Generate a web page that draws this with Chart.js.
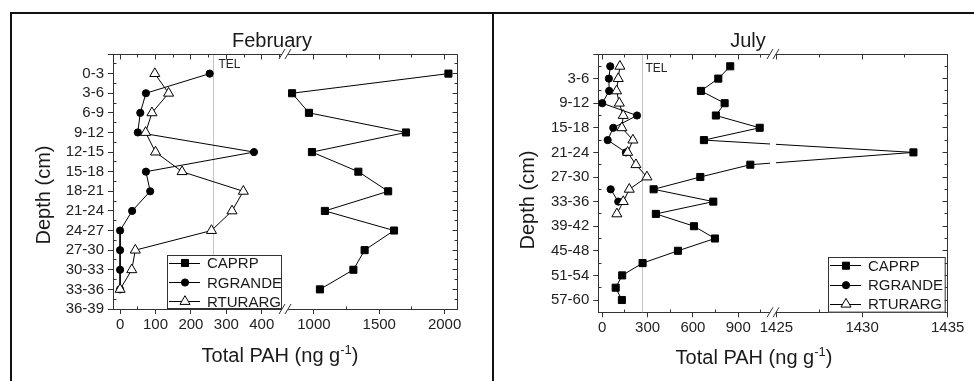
<!DOCTYPE html>
<html lang="en">
<head>
<meta charset="UTF-8">
<title>Total PAH by depth</title>
<script src="https://cdn.jsdelivr.net/npm/chart.js@4"></script>
<style>
  body { margin: 0; background: #fff; }
  .rule { position: absolute; background: #111; }
  canvas { position: absolute; top: 14px; }
</style>
</head>
<body>
<div class="rule" style="left:10px;top:12px;width:2px;height:369px"></div>
<div class="rule" style="left:10px;top:12px;width:964px;height:2px"></div>
<div class="rule" style="left:492px;top:12px;width:2px;height:369px"></div>
<canvas id="chartFeb" width="480" height="367" style="left:12px"></canvas>
<canvas id="chartJul" width="480" height="367" style="left:494px"></canvas>

<script>
const FONT = '"Liberation Sans", Arial, Helvetica, sans-serif';

// February core, 3 cm slices
const febDepths = ['0-3', '3-6', '6-9', '9-12', '12-15', '15-18', '18-21', '21-24', '24-27', '27-30', '30-33', '33-36', '36-39'];
const febCAPRP = [2029, 833, 962, 1704, 985, 1340, 1568, 1084, 1613, 1388, 1302, 1046];
const febRGRANDE = [253, 73, 57, 50, 378, 73, 85, 34, 0, 0, 0, 0];
const febRTURARG = [98, 137, 90, 72, 100, 175, 348, 316, 258, 43, 33, 0];
const febTicks = [0, 100, 200, 300, 400, 1000, 1500, 2000];
const febMinor = [50, 150, 250, 350, 450, 1250, 1750];

// July core
const julDepths = ['0-3', '3-6', '6-9', '9-12', '12-15', '15-18', '18-21', '21-24', '24-27', '27-30', '30-33', '33-36', '36-39', '39-42', '42-45', '45-48', '48-51', '51-54', '54-57', '57-60'];
const julCAPRP = [847, 768, 653, 810, 752, 1042, 673, 1433, 980, 649, 340, 735, 355, 607, 746, 501, 267, 132, 89, 130];
const julRGRANDE = [53, 44, 46, 0, 230, 73, 36, 157, null, null, 56, 106];
const julRTURARG = [117, 106, 95, 113, 139, 130, 203, 168, 223, 296, 179, 139, 97];
const julTicks = [0, 300, 600, 900, 1425, 1430, 1435];
const julMinor = [150, 450, 750, 1050, 1427.5, 1432.5];

const TEL = 264;

// broken x axis: each piece takes half the width, axis units run 0..1 | 1..2
function brokenAxis(left, right) {
  return v => v <= left[1]
    ? (v - left[0]) / (left[1] - left[0])
    : 1 + (v - right[0]) / (right[1] - right[0]);
}

const markers = {
  CAPRP: { pointStyle: 'rect', pointRadius: 5, pointBackgroundColor: '#000', order: 2 },
  RGRANDE: { pointStyle: 'circle', pointRadius: 3.6, pointBackgroundColor: '#000', order: 1 },
  RTURARG: { pointStyle: 'triangle', pointRadius: 5.8, pointBackgroundColor: '#fff', order: 0 }
};

function makeDatasets(toX, caprp, rgrande, rturarg) {
  return [['CAPRP', caprp], ['RGRANDE', rgrande], ['RTURARG', rturarg]].map(([name, vals]) => ({
    label: name,
    data: vals.map((v, i) => ({ x: v == null ? null : toX(v), y: i })),
    borderColor: '#000',
    borderWidth: 1,
    pointBorderColor: '#000',
    pointBorderWidth: 1,
    spanGaps: false,
    ...markers[name]
  }));
}

const al = p => Math.round(p - 0.5) + 0.5;

// TEL line, mirrored axes, minor ticks, axis break, legend and titles
function panelDecor(cfg) {
  return {
    id: 'panelDecor',
    beforeDatasetsDraw(chart) {
      const { ctx, chartArea: a, scales: { x } } = chart;
      const tx = al(x.getPixelForValue(cfg.toX(TEL)));
      ctx.save();
      ctx.strokeStyle = '#c4c4c4';
      ctx.lineWidth = 1;
      ctx.beginPath();
      ctx.moveTo(tx, a.top);
      ctx.lineTo(tx, a.bottom);
      ctx.stroke();
      ctx.fillStyle = '#222';
      ctx.font = '12px ' + FONT;
      ctx.textBaseline = 'middle';
      ctx.fillText('TEL', tx + cfg.telLabel[0], a.top + cfg.telLabel[1]);
      ctx.restore();
    },
    afterDatasetsDraw(chart) {
      const { ctx, chartArea: a, scales: { x, y } } = chart;
      const L = al(a.left), R = al(a.right), T = al(a.top), B = al(a.bottom);
      ctx.save();
      ctx.strokeStyle = '#333';
      ctx.lineWidth = 1;
      ctx.beginPath();
      ctx.moveTo(L, T); ctx.lineTo(R, T); ctx.lineTo(R, B);
      cfg.xTicks.forEach(v => {
        const px = al(x.getPixelForValue(cfg.toX(v)));
        ctx.moveTo(px, T); ctx.lineTo(px, T + 5);
      });
      cfg.xMinor.forEach(v => {
        const px = al(x.getPixelForValue(cfg.toX(v)));
        ctx.moveTo(px, T); ctx.lineTo(px, T + 3);
        ctx.moveTo(px, B); ctx.lineTo(px, B - 3);
      });
      cfg.yMajor.forEach(v => {
        const py = al(y.getPixelForValue(v));
        ctx.moveTo(R, py); ctx.lineTo(R - 5, py);
      });
      cfg.yMinor.forEach(v => {
        const py = al(y.getPixelForValue(v));
        ctx.moveTo(R, py); ctx.lineTo(R - 3, py);
        ctx.moveTo(L, py); ctx.lineTo(L + 3, py);
      });
      ctx.stroke();

      // axis break
      const bx = Math.round(x.getPixelForValue(1));
      ctx.fillStyle = '#fff';
      ctx.fillRect(bx - 3, a.top - 2, 6, a.bottom - a.top + 4);
      ctx.beginPath();
      [a.top, a.bottom].forEach(yy => {
        [-3, 3].forEach(dx => {
          ctx.moveTo(bx + dx - 3, yy + 5);
          ctx.lineTo(bx + dx + 3, yy - 5);
        });
      });
      ctx.stroke();

      // legend
      const lg = cfg.legend;
      ctx.fillStyle = '#fff';
      ctx.fillRect(lg.x, lg.y, lg.w, lg.h);
      ctx.strokeStyle = '#333';
      ctx.strokeRect(al(lg.x), al(lg.y), lg.w, lg.h);
      ctx.font = '15px ' + FONT;
      ctx.textBaseline = 'middle';
      chart.data.datasets.forEach((ds, i) => {
        const ry = lg.y + [8, 27.5, 46.5][i];
        ctx.strokeStyle = '#000';
        ctx.beginPath();
        ctx.moveTo(lg.x + 2, al(ry));
        ctx.lineTo(lg.x + 33, al(ry));
        ctx.stroke();
        ctx.fillStyle = ds.pointBackgroundColor;
        Chart.helpers.drawPoint(ctx, { pointStyle: ds.pointStyle, radius: ds.pointRadius, borderWidth: 1, rotation: 0 }, lg.x + 18, ry);
        ctx.fillStyle = '#1a1a1a';
        ctx.fillText(ds.label, lg.x + 40, ry + 1);
      });
      ctx.restore();
    },
    afterDraw(chart) {
      const { ctx } = chart;
      ctx.save();
      ctx.fillStyle = '#1a1a1a';
      ctx.textBaseline = 'alphabetic';
      ctx.font = '20px ' + FONT;
      ctx.textAlign = 'center';
      ctx.fillText(cfg.title, cfg.titleAt[0], cfg.titleAt[1]);

      ctx.save();
      ctx.translate(cfg.yTitleAt[0], cfg.yTitleAt[1]);
      ctx.rotate(-Math.PI / 2);
      ctx.fillText('Depth (cm)', 0, 0);
      ctx.restore();

      // Total PAH (ng g^-1)
      ctx.textAlign = 'left';
      const p1 = 'Total PAH (ng g', sup = '-1', p2 = ')';
      ctx.font = '20px ' + FONT;
      const w1 = ctx.measureText(p1).width, w2 = ctx.measureText(p2).width;
      ctx.font = '13px ' + FONT;
      const ws = ctx.measureText(sup).width;
      let sx = cfg.xTitleAt[0] - (w1 + ws + w2) / 2;
      const by = cfg.xTitleAt[1];
      ctx.font = '20px ' + FONT;
      ctx.fillText(p1, sx, by);
      ctx.font = '13px ' + FONT;
      ctx.fillText(sup, sx + w1, by - 8);
      ctx.font = '20px ' + FONT;
      ctx.fillText(p2, sx + w1 + ws, by);
      ctx.restore();
    }
  };
}

function buildChart(id, cfg) {
  const tickFont = { family: FONT, size: 15 };
  return new Chart(document.getElementById(id), {
    type: 'line',
    data: { datasets: makeDatasets(cfg.toX, ...cfg.values) },
    options: {
      responsive: false,
      animation: false,
      events: [],
      layout: { padding: { top: cfg.area.top, right: cfg.area.right, left: 0, bottom: 0 } },
      plugins: { legend: { display: false }, tooltip: { enabled: false }, title: { display: false } },
      scales: {
        x: {
          type: 'linear', min: 0, max: 2,
          afterFit: s => { s.height = cfg.area.bottom; },
          afterBuildTicks: s => { s.ticks = cfg.xTicks.map(v => ({ value: cfg.toX(v) })); },
          ticks: { autoSkip: false, maxRotation: 0, padding: 2, color: '#222', font: tickFont,
                   callback: (v, i) => String(cfg.xTicks[i]) },
          grid: { drawOnChartArea: false, tickLength: 5, color: '#333' },
          border: { color: '#333' }
        },
        y: {
          type: 'linear', reverse: true, min: -1, max: cfg.yMax,
          afterFit: s => { s.width = cfg.area.left; },
          afterBuildTicks: s => { s.ticks = cfg.yMajor.map(v => ({ value: v })); },
          ticks: { autoSkip: false, padding: 4, color: '#222', font: tickFont,
                   callback: v => cfg.depths[v] ?? '' },
          grid: { drawOnChartArea: false, tickLength: 5, color: '#333' },
          border: { color: '#333' }
        }
      }
    },
    plugins: [panelDecor(cfg)]
  });
}

const range = (from, to, step) => { const r = []; for (let v = from; v <= to; v += step) r.push(v); return r; };

buildChart('chartFeb', {
  title: 'February',
  titleAt: [260, 33],
  yTitleAt: [38, 181],
  xTitleAt: [268, 348],
  telLabel: [5, 11],
  toX: brokenAxis([-20, 466], [780, 2097]),
  values: [febCAPRP, febRGRANDE, febRTURARG],
  depths: febDepths,
  xTicks: febTicks,
  xMinor: febMinor,
  yMax: 12,
  yMajor: range(-1, 12, 1),
  yMinor: range(-0.5, 11.5, 1),
  area: { left: 101, top: 40, right: 34.7, bottom: 72 },
  legend: { x: 155, y: 241, w: 114, h: 53 }
});

buildChart('chartJul', {
  title: 'July',
  titleAt: [254, 33],
  yTitleAt: [40, 186],
  xTitleAt: [260, 350],
  telLabel: [3, 15],
  toX: brokenAxis([-26, 1130], [1424.8, 1435]),
  values: [julCAPRP, julRGRANDE, julRTURARG],
  depths: julDepths,
  xTicks: julTicks,
  xMinor: julMinor,
  yMax: 20,
  yMajor: range(-1, 19, 2),
  yMinor: range(0, 20, 2),
  area: { left: 104.3, top: 40, right: 26.3, bottom: 68.7 },
  legend: { x: 334, y: 243.7, w: 116.7, h: 54.6 }
});
</script>
</body>
</html>
